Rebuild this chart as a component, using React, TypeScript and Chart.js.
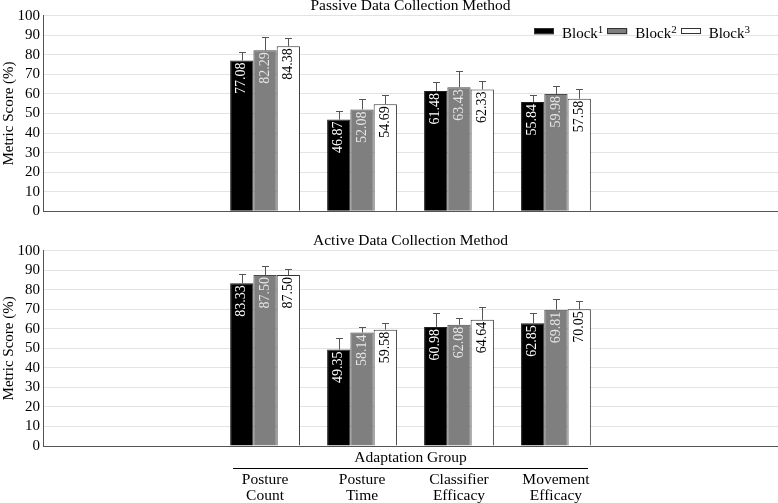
import React, { useEffect, useRef } from 'react';
import { Chart, registerables } from 'chart.js';

Chart.register(...registerables);

// ---------- data ----------
const categories: string[][] = [
  ['Posture', 'Count'],
  ['Posture', 'Time'],
  ['Classifier', 'Efficacy'],
  ['Movement', 'Efficacy'],
];
const seriesNames = ['Block', 'Block', 'Block'];
const seriesSup = ['1', '2', '3'];

const passiveBlock1 = [77.08, 46.87, 61.48, 55.84];
const passiveBlock2 = [82.29, 52.08, 63.43, 59.98];
const passiveBlock3 = [84.38, 54.69, 62.33, 57.58];
const passiveErr1 = [4.2, 4.6, 4.5, 3.8];
const passiveErr2 = [7.0, 5.2, 8.2, 4.2];
const passiveErr3 = [4.4, 4.6, 4.5, 4.8];

const activeBlock1 = [83.33, 49.35, 60.98, 62.85];
const activeBlock2 = [87.5, 58.14, 62.08, 69.81];
const activeBlock3 = [87.5, 59.58, 64.64, 70.05];
const activeErr1 = [4.9, 6.1, 6.9, 5.1];
const activeErr2 = [4.8, 3.0, 3.6, 5.3];
const activeErr3 = [3.1, 3.4, 6.5, 4.0];

const yMin = 0;
const yMax = 100;
const yStep = 10;
const xMin = -2.29;
const xMax = 5.29;

const topTitle = 'Passive Data Collection Method';
const bottomTitle = 'Active Data Collection Method';
const yTitle = 'Metric Score (%)';
const xGroupTitle = 'Adaptation Group';

// ---------- styles ----------
const FONT = "'Liberation Serif', 'Times New Roman', serif";
const barColors = ['#000000', '#7f7f7f', '#ffffff'];
const barBorders = ['#222222', '#4a4a4a', '#333333'];
const labelColors = ['#ffffff', '#e6e6e6', '#000000'];

Chart.defaults.font.family = FONT;
Chart.defaults.color = '#000';

function makeDatasets(values: number[][], errs: number[][]) {
  return values.map((vals, d) => ({
    label: seriesNames[d] + seriesSup[d],
    data: vals.map((v, i) => ({ x: i, y: v })),
    errors: errs[d],
    labelColor: labelColors[d],
    backgroundColor: barColors[d],
    borderColor: barBorders[d],
    borderWidth: 1,
    categoryPercentage: 0.72,
    barPercentage: 1.0,
  }));
}

const barExtras = {
  id: 'barExtras',
  afterDatasetsDraw(chart: any) {
    const ctx = chart.ctx;
    const yScale = chart.scales.y;
    chart.data.datasets.forEach((ds: any, d: number) => {
      const meta = chart.getDatasetMeta(d);
      meta.data.forEach((bar: any, i: number) => {
        const v = ds.data[i].y;
        // value label
        ctx.save();
        ctx.translate(bar.x, bar.y + 2);
        ctx.rotate(-Math.PI / 2);
        ctx.font = `14px ${FONT}`;
        ctx.fillStyle = ds.labelColor;
        ctx.textAlign = 'right';
        ctx.textBaseline = 'middle';
        ctx.fillText(v.toFixed(2), 0, 0);
        ctx.restore();
        // error bar
        const top = Math.round(yScale.getPixelForValue(v + ds.errors[i])) + 0.5;
        const x = Math.round(bar.x) + 0.5;
        ctx.save();
        ctx.strokeStyle = '#555';
        ctx.lineWidth = 1;
        ctx.beginPath();
        ctx.moveTo(x, bar.y);
        ctx.lineTo(x, top);
        ctx.moveTo(x - 3.5, top);
        ctx.lineTo(x + 3.5, top);
        ctx.stroke();
        ctx.restore();
      });
    });
  },
};

// title centred over the plot area
const plotTitle = {
  id: 'plotTitle',
  afterDraw(chart: any, _args: any, opts: any) {
    const ctx = chart.ctx;
    const area = chart.chartArea;
    ctx.save();
    ctx.font = `15.5px ${FONT}`;
    ctx.fillStyle = '#000';
    ctx.textAlign = 'center';
    ctx.textBaseline = 'middle';
    ctx.fillText(opts.text, (area.left + area.right) / 2, area.top - opts.gap);
    ctx.restore();
  },
};

const legendPlugin = {
  id: 'innerLegend',
  afterDraw(chart: any) {
    const ctx = chart.ctx;
    const area = chart.chartArea;
    const mainFont = `15px ${FONT}`;
    const supFont = `11px ${FONT}`;
    const boxW = 20;
    const boxH = 6;
    const boxGap = 8;
    const itemGap = 4;
    const yc = area.top + 15.6;
    const items = chart.data.datasets.map((ds: any, d: number) => {
      ctx.font = mainFont;
      const wm = ctx.measureText(seriesNames[d]).width;
      ctx.font = supFont;
      const ws = ctx.measureText(seriesSup[d]).width;
      return { d, ds, wm, ws, w: boxW + boxGap + wm + ws };
    });
    const total = items.reduce((s: number, it: any) => s + it.w, 0) + itemGap * (items.length - 1);
    let x = area.right - 28 - total;
    items.forEach((it: any) => {
      ctx.save();
      ctx.fillStyle = it.ds.backgroundColor;
      ctx.fillRect(x, yc - boxH / 2, boxW, boxH);
      ctx.strokeStyle = '#333';
      ctx.lineWidth = 1;
      ctx.strokeRect(Math.round(x) + 0.5, Math.round(yc - boxH / 2) + 0.5, boxW - 1, boxH - 1);
      ctx.fillStyle = '#000';
      ctx.textAlign = 'left';
      ctx.textBaseline = 'alphabetic';
      ctx.font = mainFont;
      ctx.fillText(seriesNames[it.d], x + boxW + boxGap, yc + 7);
      ctx.font = supFont;
      ctx.fillText(seriesSup[it.d], x + boxW + boxGap + it.wm, yc + 2);
      ctx.restore();
      x += it.w + itemGap;
    });
  },
};

const groupHeader = {
  id: 'groupHeader',
  afterDraw(chart: any) {
    const ctx = chart.ctx;
    const xs = chart.scales.x;
    const area = chart.chartArea;
    const n = categories.length;
    ctx.save();
    ctx.font = `15.5px ${FONT}`;
    ctx.fillStyle = '#000';
    ctx.textAlign = 'center';
    ctx.textBaseline = 'middle';
    ctx.fillText(xGroupTitle, xs.getPixelForValue((n - 1) / 2), area.bottom + 12);
    const ly = Math.round(area.bottom + 22) + 0.5;
    ctx.strokeStyle = '#000';
    ctx.lineWidth = 1;
    ctx.beginPath();
    ctx.moveTo(xs.getPixelForValue(-0.33), ly);
    ctx.lineTo(xs.getPixelForValue(n - 1 + 0.33), ly);
    ctx.stroke();
    ctx.restore();
  },
};

function makeConfig(opts: {
  values: number[][];
  errs: number[][];
  title: string;
  topPad: number;
  titleGap: number;
  showX: boolean;
  xHeight: number;
  bottomPad: number;
  plugins: any[];
}) {
  const yTicks: number[] = [];
  for (let v = yMin; v <= yMax; v += yStep) yTicks.push(v);
  return {
    type: 'bar' as const,
    data: { datasets: makeDatasets(opts.values, opts.errs) as any },
    plugins: [barExtras, plotTitle, ...opts.plugins],
    options: {
      responsive: false,
      animation: false as const,
      layout: { padding: { left: 0, right: 0, top: opts.topPad, bottom: opts.bottomPad } },
      plugins: {
        legend: { display: false },
        tooltip: { enabled: false },
        title: { display: false },
        plotTitle: { text: opts.title, gap: opts.titleGap },
      },
      scales: {
        x: {
          type: 'linear' as const,
          min: xMin,
          max: xMax,
          offset: false,
          grid: { display: false, drawTicks: false },
          border: { display: true, color: '#555', width: 1 },
          afterBuildTicks: (scale: any) => {
            scale.ticks = categories.map((_, i) => ({ value: i }));
          },
          afterFit: (scale: any) => { scale.height = opts.xHeight; },
          ticks: {
            display: opts.showX,
            autoSkip: false,
            maxRotation: 0,
            minRotation: 0,
            padding: 26,
            color: '#000',
            font: { size: 15.5, lineHeight: 1.03 },
            callback: (v: any) => categories[Math.round(Number(v))] ?? '',
          },
        },
        y: {
          min: yMin,
          max: yMax,
          afterBuildTicks: (scale: any) => {
            scale.ticks = yTicks.map((v) => ({ value: v }));
          },
          afterFit: (scale: any) => { scale.width = 43; },
          grid: { color: '#e3e3e3', drawTicks: false },
          border: { display: true, color: '#555', width: 1 },
          ticks: {
            autoSkip: false,
            padding: 3,
            color: '#000',
            font: { size: 15 },
            callback: (v: any) => String(v),
          },
          title: {
            display: true,
            text: yTitle,
            color: '#000',
            font: { size: 15 },
            padding: 0,
          },
        },
      },
    },
  };
}

export default function App() {
  const topRef = useRef<HTMLCanvasElement | null>(null);
  const botRef = useRef<HTMLCanvasElement | null>(null);

  useEffect(() => {
    const top = new Chart(
      topRef.current as HTMLCanvasElement,
      makeConfig({
        values: [passiveBlock1, passiveBlock2, passiveBlock3],
        errs: [passiveErr1, passiveErr2, passiveErr3],
        title: topTitle,
        topPad: 15.7,
        titleGap: 10.2,
        showX: false,
        xHeight: 0,
        bottomPad: 18.7,
        plugins: [legendPlugin],
      }) as any
    );
    const bot = new Chart(
      botRef.current as HTMLCanvasElement,
      makeConfig({
        values: [activeBlock1, activeBlock2, activeBlock3],
        errs: [activeErr1, activeErr2, activeErr3],
        title: bottomTitle,
        topPad: 20.7,
        titleGap: 10.2,
        showX: true,
        xHeight: 57,
        bottomPad: 0,
        plugins: [groupHeader],
      }) as any
    );
    return () => {
      top.destroy();
      bot.destroy();
    };
  }, []);

  return (
    <div style={{ position: 'absolute', left: 0, top: 0, width: 778, height: 503, background: '#fff' }}>
      <canvas ref={topRef} width={778} height={230} style={{ display: 'block' }} />
      <canvas ref={botRef} width={778} height={273} style={{ display: 'block' }} />
    </div>
  );
}
